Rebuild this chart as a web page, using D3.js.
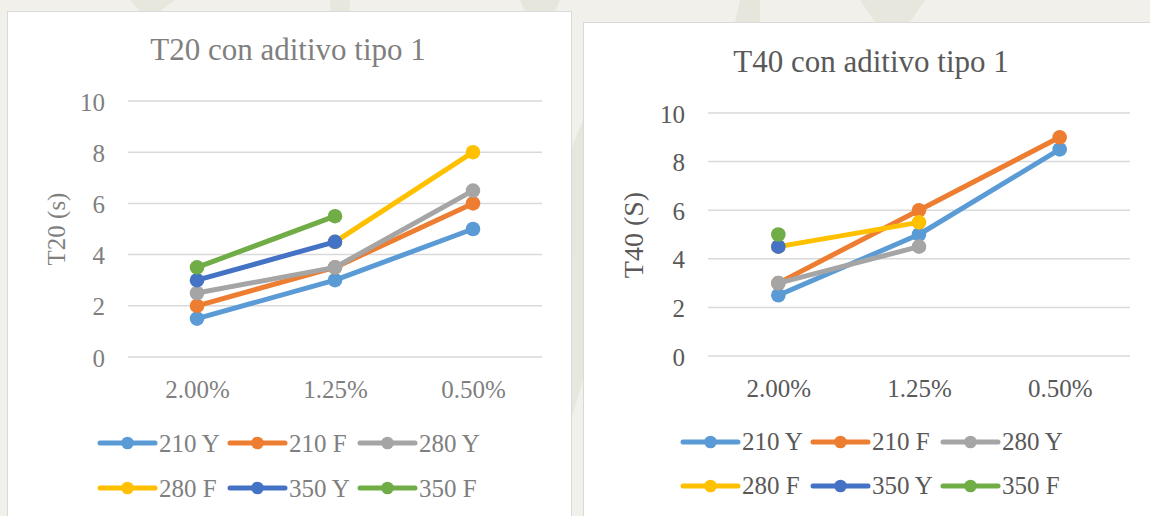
<!DOCTYPE html>
<html>
<head>
<meta charset="utf-8">
<script src="https://cdn.jsdelivr.net/npm/d3@7"></script>
<style>
  html, body { margin: 0; padding: 0; background: #f1f0eb; }
  svg { display: block; }
</style>
</head>
<body>
<svg id="chart" width="1150" height="516"></svg>
<script>
// ---------- DATA ----------
const categories = ["2.00%", "1.25%", "0.50%"];
const seriesNames = ["210 Y", "210 F", "280 Y", "280 F", "350 Y", "350 F"];
const seriesColors = ["#5B9BD5", "#ED7D31", "#A5A5A5", "#FFC000", "#4472C4", "#70AD47"];
const yTicks = [0, 2, 4, 6, 8, 10];

// T20 con aditivo tipo 1
const t20_210Y = [1.5, 3, 5];
const t20_210F = [2, 3.5, 6];
const t20_280Y = [2.5, 3.5, 6.5];
const t20_280F = [null, 4.5, 8];
const t20_350Y = [3, 4.5, null];
const t20_350F = [3.5, 5.5, null];

// T40 con aditivo tipo 1
const t40_210Y = [2.5, 5, 8.5];
const t40_210F = [3, 6, 9];
const t40_280Y = [3, 4.5, null];
const t40_280F = [4.5, 5.5, null];
const t40_350Y = [4.5, null, null];
const t40_350F = [5, null, null];

const FONT = "'Liberation Serif', 'Times New Roman', serif";
const svg = d3.select("#chart").style("font-family", FONT);

// faint watermark shapes in the page background
const wm = svg.append("g").attr("fill", "#e4e2d8").attr("opacity", 0.7);
wm.append("path").attr("d", "M130,0 L175,0 L160,11 L140,11 Z");
wm.append("path").attr("d", "M330,0 L350,0 L350,11 L330,11 Z");
wm.append("path").attr("d", "M520,0 L560,0 L555,11 L525,11 Z");
wm.append("path").attr("d", "M740,0 L760,0 L760,22 L735,22 Z");
wm.append("path").attr("d", "M860,0 L925,0 L910,22 L875,22 Z");
wm.append("path").attr("d", "M571,150 L583,120 L583,380 L571,420 Z");

function drawChart(cfg) {
  const g = svg.append("g");
  // box
  g.append("rect")
    .attr("x", cfg.box.x + 0.5).attr("y", cfg.box.y + 0.5)
    .attr("width", cfg.box.w).attr("height", cfg.box.h)
    .attr("fill", "#ffffff").attr("stroke", "#d9d9d9").attr("stroke-width", 1);

  const x = d3.scalePoint().domain(categories).range([cfg.plot.x0, cfg.plot.x1]).padding(0.5);
  const y = d3.scaleLinear().domain([0, 10]).range([cfg.plot.y0, cfg.plot.y1]);

  // title
  g.append("text")
    .attr("x", cfg.title.x).attr("y", cfg.title.y)
    .attr("text-anchor", "middle")
    .style("font-family", FONT).style("font-size", cfg.title.size + "px")
    .attr("fill", cfg.textColor)
    .text(cfg.title.text);

  // gridlines
  g.append("g").selectAll("line").data(yTicks).join("line")
    .attr("x1", cfg.plot.x0).attr("x2", cfg.plot.x1)
    .attr("y1", d => y(d)).attr("y2", d => y(d))
    .attr("stroke", "#d9d9d9").attr("stroke-width", 1.5);

  // y axis labels
  const yAxis = d3.axisLeft(y).tickValues(yTicks).tickSize(0).tickPadding(0);
  const ya = g.append("g").attr("transform", `translate(${cfg.yLabelX},0)`).call(yAxis)
    .attr("font-family", null).attr("font-size", null);
  ya.select(".domain").remove();
  ya.selectAll("text")
    .style("font-family", FONT).style("font-size", "25px")
    .attr("fill", cfg.textColor)
    .attr("dy", null).attr("y", 9);

  // x axis labels
  const xAxis = d3.axisBottom(x).tickSize(0).tickPadding(0);
  const xa = g.append("g").attr("transform", `translate(0,${cfg.xLabelY})`).call(xAxis)
    .attr("font-family", null).attr("font-size", null);
  xa.select(".domain").remove();
  xa.selectAll("text")
    .style("font-family", FONT).style("font-size", "25px")
    .attr("fill", cfg.textColor)
    .attr("dy", null).attr("y", 0);

  // y title
  g.append("text")
    .attr("transform", `translate(${cfg.yTitle.x},${cfg.yTitle.y}) rotate(-90)`)
    .attr("text-anchor", "middle")
    .style("font-family", FONT).style("font-size", cfg.yTitle.size + "px")
    .attr("fill", cfg.textColor)
    .text(cfg.yTitle.text);

  // series
  const line = d3.line()
    .defined(d => d.v !== null)
    .x(d => x(d.c)).y(d => y(d.v));

  cfg.series.forEach((vals, i) => {
    const pts = categories.map((c, j) => ({ c, v: vals[j] }));
    const sg = g.append("g");
    sg.append("path").datum(pts)
      .attr("d", line)
      .attr("fill", "none")
      .attr("stroke", seriesColors[i])
      .attr("stroke-width", 5)
      .attr("stroke-linejoin", "round").attr("stroke-linecap", "round");
    sg.selectAll("circle").data(pts.filter(d => d.v !== null)).join("circle")
      .attr("cx", d => x(d.c)).attr("cy", d => y(d.v))
      .attr("r", 7.3).attr("fill", seriesColors[i]);
  });

  // legend
  const lg = g.append("g");
  seriesNames.forEach((name, i) => {
    const col = i % 3, row = Math.floor(i / 3);
    const lx = cfg.legend.x + col * cfg.legend.dx;
    const ly = cfg.legend.rows[row];
    lg.append("line")
      .attr("x1", lx).attr("x2", lx + 55)
      .attr("y1", ly).attr("y2", ly)
      .attr("stroke", seriesColors[i]).attr("stroke-width", 5)
      .attr("stroke-linecap", "round");
    lg.append("circle").attr("cx", lx + 27.5).attr("cy", ly).attr("r", 6.3)
      .attr("fill", seriesColors[i]);
    lg.append("text")
      .attr("x", lx + 59).attr("y", ly + cfg.legend.baseOff)
      .style("font-family", FONT).style("font-size", "25px")
      .attr("fill", cfg.textColor)
      .text(name);
  });
}

drawChart({
  box: { x: 7, y: 11, w: 564, h: 520 },
  plot: { x0: 128, x1: 542, y0: 357, y1: 101 },
  title: { text: "T20 con aditivo tipo 1", x: 288, y: 60, size: 31 },
  yTitle: { text: "T20 (s)", x: 65, y: 229, size: 25 },
  yLabelX: 105,
  xLabelY: 398,
  textColor: "#7f7f7f",
  series: [t20_210Y, t20_210F, t20_280Y, t20_280F, t20_350Y, t20_350F],
  legend: { x: 100, dx: 130, rows: [443, 488], baseOff: 8.5 }
});

drawChart({
  box: { x: 583, y: 22, w: 580, h: 520 },
  plot: { x0: 708, x1: 1130, y0: 356, y1: 113 },
  title: { text: "T40 con aditivo tipo 1", x: 871, y: 72, size: 31 },
  yTitle: { text: "T40 (S)", x: 643, y: 235, size: 28 },
  yLabelX: 685,
  xLabelY: 397,
  textColor: "#595959",
  series: [t40_210Y, t40_210F, t40_280Y, t40_280F, t40_350Y, t40_350F],
  legend: { x: 683, dx: 130, rows: [442, 486], baseOff: 8 }
});
</script>
</body>
</html>
